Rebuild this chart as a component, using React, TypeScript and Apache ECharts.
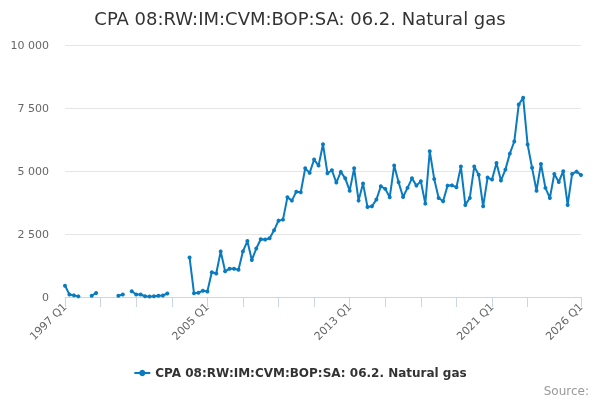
import * as echarts from "echarts";
import { useEffect, useRef } from "react";

const seriesName = "CPA 08:RW:IM:CVM:BOP:SA: 06.2. Natural gas";

const firstYear = 1997;
const lastYear = 2026;

const quarters: string[] = [];
for (let y = firstYear; y <= lastYear; y++) {
	for (let q = 1; q <= 4; q++) {
		if (y === lastYear && q > 1) break;
		quarters.push(`${y} Q${q}`);
	}
}

const gasValues: (number | null)[] = [
	450, 100, 65, 25, null, null, 50, 160,
	null, null, null, null, 50, 100, null, 230,
	100, 100, 30, 20, 30, 50, 60, 140,
	null, null, null, null, 1570, 150, 170, 250,
	215, 985, 930, 1810, 1025, 1120, 1125, 1085,
	1810, 2220, 1465, 1925, 2290, 2285, 2330, 2645,
	3030, 3070, 3955, 3825, 4180, 4155, 5105, 4925,
	5455, 5215, 6060, 4910, 5030, 4540, 4965, 4710,
	4220, 5105, 3825, 4500, 3575, 3600, 3865, 4395,
	4290, 3955, 5215, 4550, 3970, 4330, 4710, 4420,
	4590, 3705, 5785, 4685, 3930, 3800, 4420, 4430,
	4355, 5175, 3655, 3930, 5175, 4855, 3600, 4740,
	4660, 5320, 4620, 5055, 5690, 6170, 7635, 7905,
	6050, 5125, 4220, 5280, 4330, 3930, 4885, 4565,
	4990, 3655, 4885, 4975, 4845,
];

const yTicks = { min: 0, max: 10000, step: 2500 };

const font = "DejaVu Sans";

export default function App() {
	const chartRef = useRef<HTMLDivElement>(null);

	useEffect(() => {
		if (!chartRef.current) return;
		const chart = echarts.init(chartRef.current, null, { renderer: "svg" });
		const last = quarters.length - 1;
		chart.setOption({
			animation: false,
			title: {
				text: seriesName,
				left: "center",
				top: 4,
				textStyle: { fontFamily: font, fontSize: 18, fontWeight: "normal", color: "#333333" },
			},
			legend: {
				bottom: 16,
				left: "center",
				itemWidth: 16,
				itemHeight: 8,
				itemGap: 6,
				textStyle: { fontFamily: font, fontSize: 12, fontWeight: "bold", color: "#333333" },
			},
			grid: { left: 65, right: 19, top: 45, bottom: 103 },
			xAxis: {
				type: "category",
				data: quarters,
				boundaryGap: false,
				axisLine: { lineStyle: { color: "#ccd6eb" } },
				axisTick: {
					length: 10,
					lineStyle: { color: "#ccd6eb" },
					interval: (i: number) => (i % 8 === 0 && i <= 104) || i === last,
				},
				axisLabel: {
					rotate: 45,
					margin: 8,
					interval: (i: number) => i % 32 === 0 || i === last,
					fontFamily: font,
					fontSize: 11,
					color: "#666666",
				},
			},
			yAxis: {
				type: "value",
				min: yTicks.min,
				max: yTicks.max,
				interval: yTicks.step,
				axisLine: { show: false },
				axisTick: { show: false },
				splitLine: { lineStyle: { color: "#e6e6e6" } },
				axisLabel: {
					margin: 16,
					fontFamily: font,
					fontSize: 11,
					color: "#666666",
					formatter: (v: number) => String(v).replace(/\B(?=(\d{3})+(?!\d))/g, " "),
				},
			},
			series: [
				{
					name: seriesName,
					type: "line",
					data: gasValues,
					connectNulls: false,
					symbol: "circle",
					symbolSize: 4,
					showSymbol: true,
					showAllSymbol: true,
					itemStyle: { color: "#0a7bbf" },
					lineStyle: { width: 2, color: "#0a7bbf" },
				},
			],
			graphic: [
				{
					type: "text",
					right: 11,
					bottom: 3,
					style: { text: "Source:", fontFamily: font, fontSize: 12, fill: "#999999" },
				},
			],
		});

		const onResize = () => chart.resize();
		window.addEventListener("resize", onResize);
		return () => {
			window.removeEventListener("resize", onResize);
			chart.dispose();
		};
	}, []);

	return (
		<div
			ref={chartRef}
			style={{ position: "fixed", left: 0, top: 0, width: 600, height: 400 }}
		/>
	);
}
